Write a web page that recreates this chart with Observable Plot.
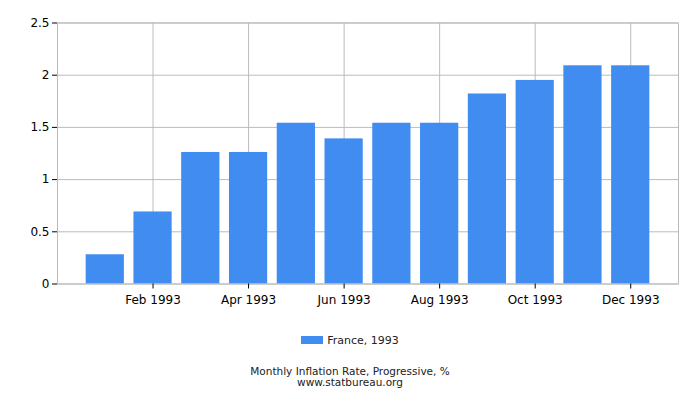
<!DOCTYPE html>
<html>
<head>
<meta charset="utf-8">
<script src="https://cdn.jsdelivr.net/npm/d3@7"></script>
<script src="https://cdn.jsdelivr.net/npm/@observablehq/plot@0.6"></script>
<style>
  body { margin: 0; background: #fff; font-family: "DejaVu Sans", sans-serif; }
  #wrap { position: relative; width: 700px; height: 400px; }
  #chart { position: absolute; left: 0; top: 0; }
  #legend { position: absolute; left: 0; top: 334px; width: 700px; text-align: center; font-size: 11px; color: #222; }
  #legend .sw { display: inline-block; width: 22px; height: 8px; background: #418cf0; margin-right: 4px; vertical-align: 0px; }
  .cap { position: absolute; left: 0; width: 700px; text-align: center; font-size: 10.5px; line-height: 10.5px; color: #222; }
</style>
</head>
<body>
<div id="wrap">
  <div id="chart"></div>
  <div id="legend"><span class="sw"></span>France, 1993</div>
  <div class="cap" style="top:366px">Monthly Inflation Rate, Progressive, %</div>
  <div class="cap" style="top:377px">www.statbureau.org</div>
</div>
<script>
const months = ["Jan 1993","Feb 1993","Mar 1993","Apr 1993","May 1993","Jun 1993","Jul 1993","Aug 1993","Sep 1993","Oct 1993","Nov 1993","Dec 1993"];
const values = [0.28, 0.69, 1.26, 1.26, 1.54, 1.39, 1.54, 1.54, 1.82, 1.95, 2.09, 2.09];
const yTicks = [0, 0.5, 1, 1.5, 2, 2.5];
const xTicks = ["Feb 1993","Apr 1993","Jun 1993","Aug 1993","Oct 1993","Dec 1993"];
const data = months.map((m, i) => ({month: m, value: values[i]}));

const chart = Plot.plot({
  width: 700,
  height: 320,
  marginLeft: 57,
  marginRight: 22,
  marginTop: 22.5,
  marginBottom: 36.5,
  style: {fontFamily: "DejaVu Sans, sans-serif", fontSize: "12px", background: "white", color: "#000"},
  x: {type: "band", domain: months, paddingInner: 0.2, paddingOuter: 0.6, round: false, label: null},
  y: {domain: [0, 2.5], label: null},
  marks: [
    Plot.gridY(yTicks, {stroke: "#bbb", strokeOpacity: 1}),
    Plot.gridX(xTicks, {stroke: "#bbb", strokeOpacity: 1}),
    Plot.barY(data, {x: "month", y: "value", fill: "#418cf0"}),
    Plot.frame({stroke: "#bbb"}),
    Plot.axisY(yTicks, {tickSize: 5, tickPadding: 3, tickFormat: d => String(d), label: null, stroke: "#000", fill: "#000"}),
    Plot.axisX(xTicks, {tickSize: 5, tickPadding: 6, label: null, stroke: "#000", fill: "#000"})
  ]
});
document.getElementById("chart").appendChild(chart);
</script>
</body>
</html>
